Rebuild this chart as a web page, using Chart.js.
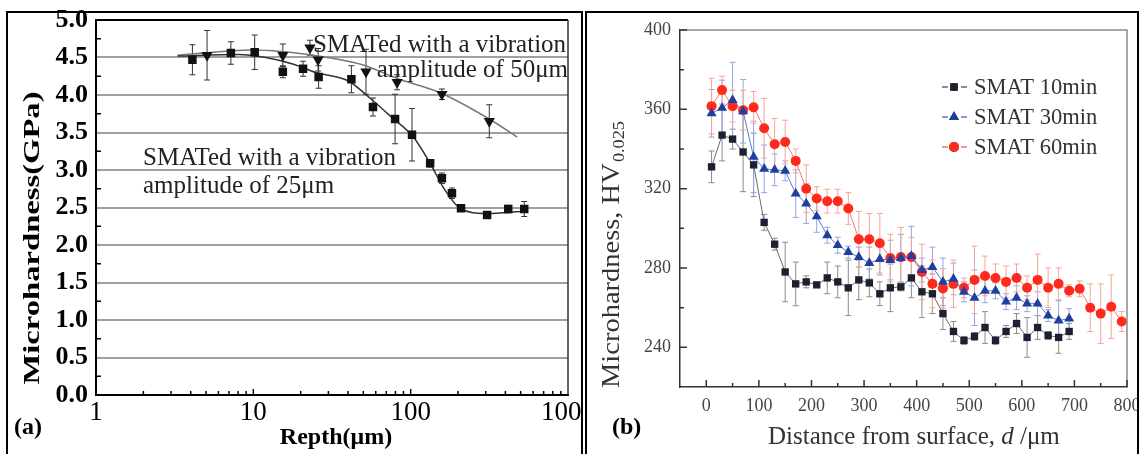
<!DOCTYPE html>
<html><head><meta charset="utf-8">
<script src="https://cdn.jsdelivr.net/npm/chart.js@4.4.1/dist/chart.umd.min.js"></script>
<style>
html,body{margin:0;padding:0;background:#fff;width:1139px;height:454px;overflow:hidden;}
#ca{position:absolute;left:0;top:0;}
#cb{position:absolute;left:588px;top:0;}
.frame{position:absolute;border:2px solid #000;box-sizing:border-box;pointer-events:none;}
</style></head><body>
<canvas id="ca" width="581" height="454"></canvas>
<canvas id="cb" width="551" height="454"></canvas>
<div class="frame" style="left:6px;top:11px;width:577px;height:460px;"></div>
<div class="frame" style="left:585px;top:11px;width:554px;height:460px;"></div>
<script>
// ---------- Panel (a) data ----------
const depthA25 = [4.1, 7.2, 10.2, 15.4, 20.7, 26, 42, 57.6, 79.6, 102, 133, 158, 183, 209, 306, 417, 527];
const hardA25  = [4.47, 4.56, 4.57, 4.31, 4.35, 4.24, 4.21, 3.84, 3.68, 3.47, 3.09, 2.89, 2.69, 2.49, 2.40, 2.48, 2.48];
const errA25   = [0.2, 0.15, 0.23, 0.08, 0.1, 0.15, 0.18, 0.12, 0.33, 0.35, 0.05, 0.07, 0.07, 0.04, 0.04, 0.05, 0.1];
const depthA50 = [5.08, 15.4, 22.9, 25.8, 52, 82, 158, 316];
const hardA50  = [4.53, 4.53, 4.63, 4.47, 4.31, 4.17, 4.01, 3.65];
const errA50   = [0.33, 0.15, 0.1, 0.15, 0.3, 0.1, 0.07, 0.22];
const fitDepth25 = [3.3, 8, 12, 18, 25, 40, 55, 77, 104, 133, 161, 206, 300, 530];
const fitHard25  = [4.52, 4.54, 4.5, 4.41, 4.3, 4.19, 3.96, 3.69, 3.44, 3.09, 2.77, 2.49, 2.42, 2.45];
const fitDepth50 = [3.3, 10, 15, 24, 50, 82, 154, 316, 475];
const fitHard50  = [4.53, 4.6, 4.58, 4.53, 4.4, 4.22, 4.03, 3.68, 3.44];
const xTicksA = [1, 10, 100, 1000];
const xMinorA = [2,3,4,5,6,7,8,9,20,30,40,50,60,70,80,90,200,300,400,500,600,700,800,900];
const yTicksA = [0, 0.5, 1, 1.5, 2, 2.5, 3, 3.5, 4, 4.5, 5];
const yMinorA = [0.25, 0.75, 1.25, 1.75, 2.25, 2.75, 3.25, 3.75, 4.25, 4.75];

// ---------- Panel (b) data ----------
const dist10 = [10,30,50,70,90,110,130,150,170,190,210,230,250,270,290,310,330,350,370,390,410,430,450,470,490,510,530,550,570,590,610,630,650,670,690];
const hv10  = [331,347,345,338.5,332,303,292,278,272,273,271.5,275,273,270,274,272.5,267,270,270.5,275,268,267,257,248,243.5,245.5,250,243.5,248,252,245,250,246,245,248];
const err10 = [8,13,5,20,16,4,3,15,11,3,0,8,8,14,10,7,6,12,2,10,13,10,8,5,2,2,8,2,3,5,10,6,2,8,4];
const dist30 = [10,30,50,70,90,110,130,150,170,190,210,230,250,270,290,310,330,350,370,390,410,430,450,470,490,510,530,550,570,590,610,630,650,670,690];
const hv30  = [358,360.7,364.7,359,336,330,329.5,329,317.5,312.5,306,296.5,291.5,288,285.5,282.5,284.5,284,285,286,279,280.5,273,274.5,268,265,268.5,268.5,263,265,262,262,256,253.5,254.5];
const err30 = [12,14,19,16,18,12,8,5,12,10,8,4,4,3,5,8,8,10,12,15,6,10,12,8,5,14,6,4,4,6,4,6,3,10,5];
const dist60 = [10,30,50,70,90,110,130,150,170,190,210,230,250,270,290,310,330,350,370,390,410,430,450,470,490,510,530,550,570,590,610,630,650,670,690,710,730,750,770,790];
const hv60  = [361.6,369.7,361.6,359.6,361,350.5,342.4,343.5,334,320,315,313.7,313.7,310,294.5,294.5,292.5,285,285.5,285.5,278,272,269.7,272,270,274,276,275,273,275,270,274,270,272,268.5,269.5,260,257,260.5,253];
const err60 = [14,7,8,10,8,15,13,11,6,12,6,6,6,8,14,13,15,12,15,10,14,12,10,12,5,17,10,7,8,7,6,13,10,8,3,4,12,15,16,5];
const xTicksB = [0,100,200,300,400,500,600,700,800];
const xMinorB = [50,150,250,350,450,550,650,750];
const yTicksB = [240,280,320,360,400];
const yMinorB = [260,300,340,380];
const legendB = ['SMAT 10min','SMAT 30min','SMAT 60min'];

Chart.defaults.font.family = '"Liberation Serif","Times New Roman",serif';
Chart.defaults.animation = false;

const pts = (xs, ys) => xs.map((x, i) => ({x: x, y: ys[i]}));

const errorBars = {
  id: 'errorBars',
  beforeDatasetsDraw(chart) {
    const ctx = chart.ctx;
    ctx.save();
    ctx.beginPath();
    ctx.rect(chart.chartArea.left, chart.chartArea.top, chart.chartArea.right - chart.chartArea.left, chart.chartArea.bottom - chart.chartArea.top);
    ctx.clip();
    chart.data.datasets.forEach((ds, i) => {
      if (!ds.errors) return;
      const meta = chart.getDatasetMeta(i);
      const ys = chart.scales[meta.yAxisID];
      ctx.strokeStyle = ds.errorColor;
      ctx.lineWidth = ds.errorWidth || 1;
      meta.data.forEach((pt, j) => {
        const v = ds.data[j].y, e = ds.errors[j];
        const y1 = ys.getPixelForValue(v + e), y2 = ys.getPixelForValue(v - e);
        const x = pt.x, c = ds.capHalf || 3;
        ctx.beginPath();
        ctx.moveTo(x, y1); ctx.lineTo(x, y2);
        ctx.moveTo(x - c, y1); ctx.lineTo(x + c, y1);
        ctx.moveTo(x - c, y2); ctx.lineTo(x + c, y2);
        ctx.stroke();
      });
    });
    ctx.restore();
  }
};

// ---------- Panel (a) ----------
const decorA = {
  id: 'decorA',
  afterDraw(chart) {
    const ctx = chart.ctx, a = chart.chartArea, xs = chart.scales.x, ys = chart.scales.y;
    ctx.save();
    ctx.strokeStyle = '#000'; ctx.lineWidth = 2;
    ctx.beginPath(); ctx.moveTo(a.left, a.top); ctx.lineTo(a.right, a.top); ctx.stroke();
    ctx.strokeStyle = '#333'; ctx.lineWidth = 1.5;
    ctx.beginPath(); ctx.moveTo(a.right, a.top); ctx.lineTo(a.right, a.bottom); ctx.stroke();
    ctx.strokeStyle = '#000'; ctx.lineWidth = 1.5;
    ctx.beginPath();
    xMinorA.forEach(v => { const x = xs.getPixelForValue(v); ctx.moveTo(x, a.bottom); ctx.lineTo(x, a.bottom - 4); });
    [10, 100].forEach(v => { const x = xs.getPixelForValue(v); ctx.moveTo(x, a.bottom); ctx.lineTo(x, a.bottom - 6); });
    yMinorA.forEach(v => { const y = ys.getPixelForValue(v); ctx.moveTo(a.left, y); ctx.lineTo(a.left + 5, y); });
    ctx.stroke();
    // annotations
    ctx.fillStyle = '#222';
    ctx.font = '25px "Liberation Serif"';
    ctx.textBaseline = 'middle';
    ctx.textAlign = 'left';
    ctx.fillText('SMATed with a vibration', 313, 45);
    ctx.textAlign = 'right';
    ctx.fillText('amplitude of 50\u03bcm', 568, 70);
    ctx.textAlign = 'left';
    ctx.fillText('SMATed with a vibration', 143, 158);
    ctx.fillText('amplitude of 25\u03bcm', 143, 186);
    // axis titles
    ctx.fillStyle = '#000';
    ctx.font = 'bold 24px "Liberation Serif"';
    ctx.textAlign = 'center';
    ctx.fillText('Repth(\u03bcm)', 336, 438);
    ctx.save();
    ctx.translate(33, 238); ctx.rotate(-Math.PI / 2); ctx.scale(1.36, 1);
    ctx.font = 'bold 24px "Liberation Serif"';
    ctx.fillText('Microhardness(GPa)', 0, 0);
    ctx.restore();
    ctx.font = 'bold 24px "Liberation Serif"';
    ctx.textAlign = 'left';
    ctx.fillText('(a)', 14, 428);
    ctx.restore();
  }
};

new Chart(document.getElementById('ca'), {
  type: 'line',
  data: {
    datasets: [
      { data: pts(depthA25, hardA25), errors: errA25, errorColor: '#333', capHalf: 3,
        showLine: false, pointStyle: 'rect', pointRadius: 6, backgroundColor: '#111', borderColor: '#111', borderWidth: 0 },
      { data: pts(depthA50, hardA50), errors: errA50, errorColor: '#333', capHalf: 3,
        showLine: false, pointStyle: 'triangle', rotation: 180, pointRadius: 6.5, backgroundColor: '#111', borderColor: '#111', borderWidth: 0 },
      { data: pts(fitDepth25, fitHard25), pointRadius: 0, borderColor: '#333', borderWidth: 1.5, cubicInterpolationMode: 'monotone', fill: false },
      { data: pts(fitDepth50, fitHard50), pointRadius: 0, borderColor: '#777', borderWidth: 1.5, cubicInterpolationMode: 'monotone', fill: false }
    ]
  },
  options: {
    responsive: false, devicePixelRatio: 1,
    layout: { padding: { left: 0, top: 20, right: 13, bottom: 0 } },
    plugins: { legend: { display: false }, tooltip: { enabled: false } },
    scales: {
      x: {
        type: 'logarithmic', min: 1, max: 1000,
        afterBuildTicks: s => { s.ticks = xTicksA.map(v => ({ value: v })); },
        afterFit: s => { s.height = 59; s.paddingLeft = 0; s.paddingRight = 0; },
        ticks: { autoSkip: false, maxRotation: 0, padding: 2, color: '#000', font: { size: 27, weight: 'normal' }, callback: v => String(v) },
        grid: { display: false, drawTicks: false },
        border: { display: true, color: '#000', width: 2 }
      },
      y: {
        min: 0, max: 5,
        afterBuildTicks: s => { s.ticks = yTicksA.map(v => ({ value: v })); },
        afterFit: s => { s.width = 96; s.paddingTop = 0; s.paddingBottom = 0; },
        ticks: { padding: 8, color: '#000', font: { size: 26, weight: 'bold' }, callback: v => Number(v).toFixed(1) },
        grid: { drawTicks: false, lineWidth: 2, color: c => (c.tick && (c.tick.value === 0 || c.tick.value === 5)) ? 'rgba(0,0,0,0)' : '#a0a0a0' },
        border: { display: true, color: '#000', width: 2 }
      }
    }
  },
  plugins: [errorBars, decorA]
});

// ---------- Panel (b) ----------
const styleB = [
  { color: '#1c2030', line: '#6a6a6a', err: '#8c8c8c', style: 'rect', r: 5.2 },
  { color: '#1f3f9e', line: '#5a78d0', err: '#93a6e2', style: 'triangle', r: 5.8 },
  { color: '#ff2a1c', line: '#f27a6c', err: '#f7a497', style: 'circle', r: 5 }
];
const decorB = {
  id: 'decorB',
  afterDraw(chart) {
    const ctx = chart.ctx, a = chart.chartArea, xs = chart.scales.x, ys = chart.scales.y;
    ctx.save();
    ctx.strokeStyle = '#8a8a8a'; ctx.lineWidth = 1.5;
    ctx.beginPath(); ctx.moveTo(a.left, a.top); ctx.lineTo(a.right, a.top); ctx.lineTo(a.right, a.bottom); ctx.stroke();
    ctx.strokeStyle = '#333'; ctx.lineWidth = 1.5;
    ctx.beginPath();
    xTicksB.forEach(v => { const x = xs.getPixelForValue(v); ctx.moveTo(x, a.bottom); ctx.lineTo(x, a.bottom - 7); });
    xMinorB.forEach(v => { const x = xs.getPixelForValue(v); ctx.moveTo(x, a.bottom); ctx.lineTo(x, a.bottom - 4); });
    yTicksB.forEach(v => { const y = ys.getPixelForValue(v); ctx.moveTo(a.left, y); ctx.lineTo(a.left + 7, y); });
    yMinorB.forEach(v => { const y = ys.getPixelForValue(v); ctx.moveTo(a.left, y); ctx.lineTo(a.left + 4, y); });
    ctx.stroke();
    // legend
    legendB.forEach((name, i) => {
      const y = 87 + i * 30, s = styleB[i];
      ctx.strokeStyle = s.line; ctx.lineWidth = 1.5;
      ctx.beginPath(); ctx.moveTo(354, y); ctx.lineTo(360, y); ctx.moveTo(373, y); ctx.lineTo(379, y); ctx.stroke();
      Chart.helpers.drawPoint(ctx, { pointStyle: s.style, radius: s.r, rotation: 0, borderWidth: 0 }, 366, y);
      ctx.fillStyle = s.color; ctx.fill();
      ctx.fillStyle = '#333'; ctx.font = '22.5px "Liberation Serif"';
      ctx.textAlign = 'left'; ctx.textBaseline = 'middle';
      ctx.fillText(name, 386, y + 1);
    });
    // y title with subscript
    ctx.save();
    ctx.translate(24, 388); ctx.rotate(-Math.PI / 2); ctx.scale(1.14, 1);
    ctx.fillStyle = '#333'; ctx.textAlign = 'left'; ctx.textBaseline = 'middle';
    ctx.font = '25px "Liberation Serif"';
    const t1 = 'Microhardness, HV';
    ctx.fillText(t1, 0, 0);
    const w1 = ctx.measureText(t1).width;
    ctx.font = '16px "Liberation Serif"';
    ctx.fillText('0.025', w1 + 1, 8);
    ctx.restore();
    // x title
    ctx.fillStyle = '#333'; ctx.textBaseline = 'middle'; ctx.textAlign = 'left';
    ctx.font = '25px "Liberation Serif"';
    let x0 = 180;
    const p1 = 'Distance from surface, ';
    ctx.fillText(p1, x0, 437); x0 += ctx.measureText(p1).width;
    ctx.font = 'italic 25px "Liberation Serif"';
    ctx.fillText('d', x0, 437); x0 += ctx.measureText('d').width;
    ctx.font = '25px "Liberation Serif"';
    ctx.fillText(' /\u03bcm', x0, 437);
    // panel label
    ctx.fillStyle = '#000'; ctx.font = 'bold 24px "Liberation Serif"';
    ctx.fillText('(b)', 24, 428);
    ctx.restore();
  }
};

const dsB = (xs, ys, es, s) => ({
  data: pts(xs, ys), errors: es, errorColor: s.err, capHalf: 3,
  borderColor: s.line, borderWidth: 1, tension: 0,
  pointStyle: s.style, pointRadius: s.r, pointBackgroundColor: s.color, pointBorderColor: s.color, pointBorderWidth: 0
});

new Chart(document.getElementById('cb'), {
  type: 'line',
  data: {
    datasets: [
      dsB(dist10, hv10, err10, styleB[0]),
      dsB(dist30, hv30, err30, styleB[1]),
      dsB(dist60, hv60, err60, styleB[2])
    ]
  },
  options: {
    responsive: false, devicePixelRatio: 1,
    layout: { padding: { left: 0, top: 30, right: 12, bottom: 0 } },
    plugins: { legend: { display: false }, tooltip: { enabled: false } },
    scales: {
      x: {
        type: 'linear', min: -50, max: 800,
        afterBuildTicks: s => { s.ticks = xTicksB.map(v => ({ value: v })); },
        afterFit: s => { s.height = 67; s.paddingLeft = 0; s.paddingRight = 0; },
        ticks: { autoSkip: false, maxRotation: 0, padding: 8, color: '#444', font: { size: 18 }, callback: v => String(v) },
        grid: { display: false, drawTicks: false },
        border: { display: true, color: '#333', width: 1.5 }
      },
      y: {
        min: 220, max: 400,
        afterBuildTicks: s => { s.ticks = yTicksB.map(v => ({ value: v })); },
        afterFit: s => { s.width = 92; s.paddingTop = 0; s.paddingBottom = 0; },
        ticks: { padding: 9, color: '#444', font: { size: 18 }, callback: v => String(v) },
        grid: { display: false, drawTicks: false },
        border: { display: true, color: '#333', width: 1.5 }
      }
    }
  },
  plugins: [errorBars, decorB]
});
</script>
</body></html>
